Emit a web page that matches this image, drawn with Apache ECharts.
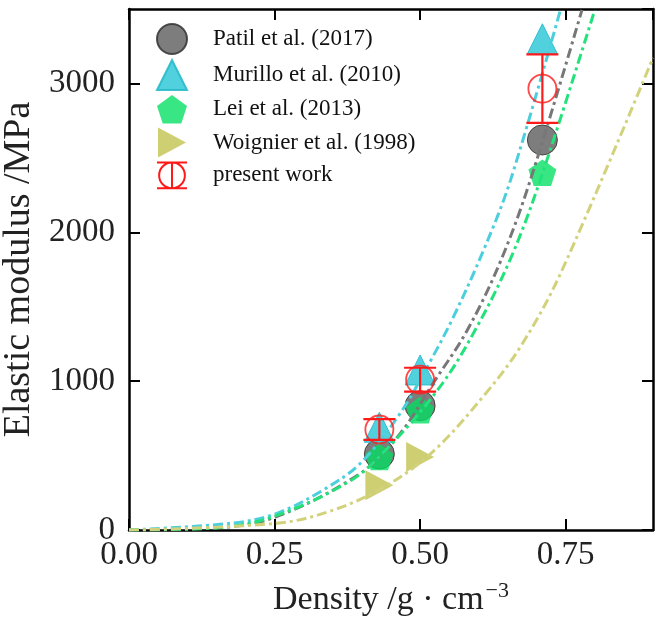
<!DOCTYPE html>
<html>
<head>
<meta charset="UTF-8">
<title>Elastic modulus vs density</title>
<style>
    html,body{margin:0;padding:0;background:#fff;}
    #wrap{width:663px;height:626px;}
</style>
</head>
<body>
<div id="wrap"></div>
<script src="https://cdn.jsdelivr.net/npm/echarts/dist/echarts.min.js"></script>
<script>
// measured points
let patilX = [0.43, 0.50, 0.71],   patilY = [510, 835, 2620];
let murilloX = [0.43, 0.50, 0.71], murilloY = [690, 1075, 3300];
let leiX = [0.43, 0.50, 0.71],     leiY = [490, 805, 2400];
let woignierX = [0.43, 0.50],      woignierY = [300, 490];
let presentX = [0.43, 0.50, 0.71], presentY = [675, 1010, 2965], presentErr = [70, 80, 230];

// fitted curves
let patilFitX = [0, 0.15, 0.25, 0.397, 0.466, 0.523, 0.58, 0.637, 0.689, 0.778];
let patilFitY = [0, 15, 85, 380, 649, 990, 1335, 1795, 2347, 3494];
let murilloFitX = [0, 0.179, 0.254, 0.334, 0.397, 0.466, 0.517, 0.557, 0.609, 0.655, 0.741];
let murilloFitY = [0, 47, 112, 270, 447, 785, 1130, 1430, 1880, 2347, 3494];
let leiFitX = [0, 0.15, 0.248, 0.38, 0.443, 0.534, 0.597, 0.655, 0.706, 0.80];
let leiFitY = [0, 14, 90, 330, 545, 961, 1360, 1820, 2347, 3494];
let woignierFitX = [0, 0.254, 0.351, 0.443, 0.523, 0.609, 0.672, 0.741, 0.9];
let woignierFitY = [0, 45, 134, 300, 530, 900, 1229, 1722, 3172];

let xTicks = [0, 0.9, 0.25];      // min, max, step
let yTicks = [0, 3500, 1000];

let font = 'Liberation Serif, DejaVu Serif, serif';
let pentagon = 'path://M15 0 L29.27 10.36 L23.82 27.14 L6.18 27.14 L0.73 10.36 Z';
let rightTri = 'path://M0 0 L28 15 L0 30 Z';
let presentIcon = 'path://M3 15 A12 12 0 1 1 27 15 A12 12 0 1 1 3 15 Z M15 3 L15 27 M1 3 L29 3 M1 27 L29 27';

function pairs(xs, ys) {
    return xs.map((x, i) => [x, ys[i]]);
}

let chart = echarts.init(document.getElementById('wrap'));

function fitLine(name, xs, ys, color) {
    return {
        name: name + ' fit',
        type: 'line',
        data: pairs(xs, ys),
        smooth: 0.35,
        showSymbol: false,
        silent: true,
        z: 3,
        lineStyle: {color: color, width: 3, type: [10, 4, 3, 4]}
    };
}

function marks(name, xs, ys, symbol, size, color, border, alpha) {
    return {
        name: name,
        type: 'scatter',
        data: pairs(xs, ys),
        symbol: symbol,
        symbolSize: size,
        symbolKeepAspect: true,
        z: 2,
        itemStyle: {color: color, opacity: alpha || 0.85, borderColor: border || color, borderWidth: border ? 1 : 0}
    };
}

// every axis gets its own fresh line/tick objects
function axis(extra, ticks) {
    return Object.assign({
        type: 'value',
        min: ticks[0],
        max: ticks[1],
        interval: ticks[2],
        axisLine: {show: true, onZero: false, lineStyle: {color: '#000', width: 2.5}},
        axisTick: {show: true, inside: true, length: 11, lineStyle: {color: '#000', width: 2}},
        splitLine: {show: false}
    }, extra);
}

let option = {
    backgroundColor: '#fff',
    animation: false,
    textStyle: {fontFamily: font},
    grid: {left: 129, right: 10, top: 9, bottom: 96, outerBoundsMode: 'none'},
    legend: {
        orient: 'vertical',
        left: 156,
        top: 23,
        padding: 0,
        itemWidth: 30,
        itemHeight: 30,
        itemGap: 4,
        textStyle: {fontFamily: font, fontSize: 23, color: '#111', padding: [0, 0, 0, 21]},
        data: [
            {name: 'Patil et al. (2017)', icon: 'circle'},
            {name: 'Murillo et al. (2010)', icon: 'triangle'},
            {name: 'Lei et al. (2013)', icon: pentagon},
            {name: 'Woignier et al. (1998)', icon: rightTri},
            {name: 'present work', icon: presentIcon,
             itemStyle: {color: 'transparent', borderColor: '#ff1a1a', borderWidth: 2, opacity: 1}}
        ]
    },
    xAxis: [
        axis({
            position: 'bottom',
            name: 'Density /g · cm{sup|−3}',
            nameLocation: 'middle',
            nameGap: 50,
            nameTextStyle: {fontFamily: font, fontSize: 34, color: '#222',
                rich: {sup: {fontFamily: font, fontSize: 22, color: '#222', padding: [0, 0, 18, 2]}}},
            axisLabel: {fontFamily: font, fontSize: 33, color: '#222', margin: 9, showMaxLabel: false,
                formatter: v => v.toFixed(2)}
        }, xTicks),
        axis({position: 'top', axisLabel: {show: false}}, xTicks)
    ],
    yAxis: [
        axis({
            position: 'left',
            name: 'Elastic modulus /MPa',
            nameLocation: 'middle',
            nameGap: 79,
            nameTextStyle: {fontFamily: font, fontSize: 38, color: '#222'},
            axisLabel: {fontFamily: font, fontSize: 33, color: '#222', margin: 14, showMaxLabel: false,
                formatter: v => String(v)}
        }, yTicks),
        axis({position: 'right', axisLabel: {show: false}}, yTicks)
    ],
    series: [
        marks('Patil et al. (2017)', patilX, patilY, 'circle', 30, '#666666', '#333333'),
        marks('Murillo et al. (2010)', murilloX, murilloY, 'triangle', 30, '#33c9d8', '#22b8c8'),
        marks('Lei et al. (2013)', leiX, leiY, pentagon, 28, '#00e060', null, 0.78),
        marks('Woignier et al. (1998)', woignierX, woignierY, rightTri, 30, '#c6c65a'),
        fitLine('Patil', patilFitX, patilFitY, '#777777'),
        fitLine('Murillo', murilloFitX, murilloFitY, '#4ccfdc'),
        fitLine('Lei', leiFitX, leiFitY, '#22e27a'),
        fitLine('Woignier', woignierFitX, woignierFitY, '#d2d27c'),
        {
            name: 'present work',
            type: 'scatter',
            data: pairs(presentX, presentY),
            symbol: 'circle',
            symbolSize: 28,
            z: 5,
            itemStyle: {color: 'transparent', borderColor: '#ff1a1a', borderWidth: 1.8}
        },
        {
            name: 'present work bars',
            type: 'custom',
            z: 6,
            silent: true,
            data: presentX.map((x, i) => [x, presentY[i], presentErr[i]]),
            renderItem: function (params, api) {
                let x = api.value(0), y = api.value(1), e = api.value(2);
                let top = api.coord([x, y + e]);
                let bot = api.coord([x, y - e]);
                let hw = 16;
                let st = {stroke: '#ff1a1a', lineWidth: 2.2};
                return {
                    type: 'group',
                    children: [
                        {type: 'line', shape: {x1: top[0], y1: top[1], x2: bot[0], y2: bot[1]}, style: st},
                        {type: 'line', shape: {x1: top[0] - hw, y1: top[1], x2: top[0] + hw, y2: top[1]}, style: st},
                        {type: 'line', shape: {x1: bot[0] - hw, y1: bot[1], x2: bot[0] + hw, y2: bot[1]}, style: st}
                    ]
                };
            }
        }
    ]
};

chart.setOption(option);
</script>
</body>
</html>
